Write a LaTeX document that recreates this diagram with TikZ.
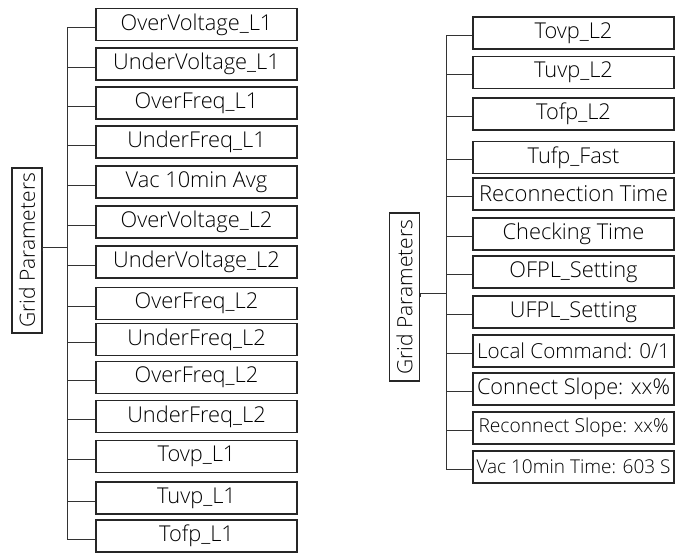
\documentclass[tikz,border=0pt]{standalone}
\usepackage{fontspec}
\IfFontExistsTF{Open Sans Light}{\setmainfont{Open Sans Light}}{\setmainfont{Open Sans}}
\newcommand{\fitto}[2]{\resizebox{#1pt}{!}{#2}}
\begin{document}
\begin{tikzpicture}[x=1pt,y=-1pt,
  box/.style={draw=black!85,line width=1.7pt,minimum width=201pt,minimum height=32pt,inner sep=0pt,font=\fontsize{21.8}{23}\selectfont},
  lbl/.style={draw=black!85,line width=1.2pt,minimum width=165pt,minimum height=30pt,inner sep=0pt,rotate=90,font=\fontsize{21}{22}\selectfont},
  conn/.style={line width=0.9pt,draw=black!80}]
\useasboundingbox (0,0) rectangle (675,552);
% left column
\node[lbl] (gl) at (27,250.5) {Grid Parameters};
\foreach \n/\y/\t in {l1/24.5/OverVoltage\_L1, l2/64/UnderVoltage\_L1, l3/103/OverFreq\_L1, l4/142/UnderFreq\_L1, l5/182/Vac 10min Avg, l6/222/OverVoltage\_L2, l7/262/UnderVoltage\_L2, l8/303.5/OverFreq\_L2, l9/339.5/UnderFreq\_L2, l10/377.5/OverFreq\_L2, l11/416.5/UnderFreq\_L2, l12/456.5/Tovp\_L1, l13/498/Tuvp\_L1, l14/536/Tofp\_L1}
  {\node[box] (\n) at (196.5,\y) {\t};}
\foreach \n in {l1,l2,l3,l4,l5,l6,l7,l8,l9,l10,l11,l12,l13,l14}
  {\draw[conn] ([yshift=-3pt]\n.west) -- ++(-28,0) coordinate (\n t);}
\draw[conn] (l1t) -- (l14t);
\coordinate (ltr) at (68,247);
\draw[conn] (gl.south) |- (ltr);
% right column
\node[lbl,minimum width=168pt] (gr) at (404.5,297) {Grid Parameters};
\foreach \n/\y/\t in {r1/33/Tovp\_L2, r2/72.5/Tuvp\_L2, r3/114/Tofp\_L2, r4/157.5/Tufp\_Fast, r5/194/{\fitto{189}{Reconnection Time}}, r6/234/Checking Time, r7/272/OFPL\_Setting, r8/312/UFPL\_Setting, r9/351/{\fitto{193}{Local Command: 0/1}}, r10/389/{\fitto{193}{Connect Slope: xx\%}}, r11/428/{\fitto{190}{Reconnect Slope: xx\%}}, r12/467/{\fitto{194}{Vac 10min Time: 603 S}}}
  {\node[box] (\n) at (573.5,\y) {\t};}
\foreach \n in {r1,r2,r3,r4,r5,r6,r7,r8,r9,r10,r11,r12}
  {\draw[conn] ([yshift=-2pt]\n.west) -- ++(-26,0) coordinate (\n t);}
\draw[conn] (r1t) -- (r12t);
\coordinate (rtr) at (447,293);
\draw[conn] (gr.south) |- (rtr);
\end{tikzpicture}
\end{document}
